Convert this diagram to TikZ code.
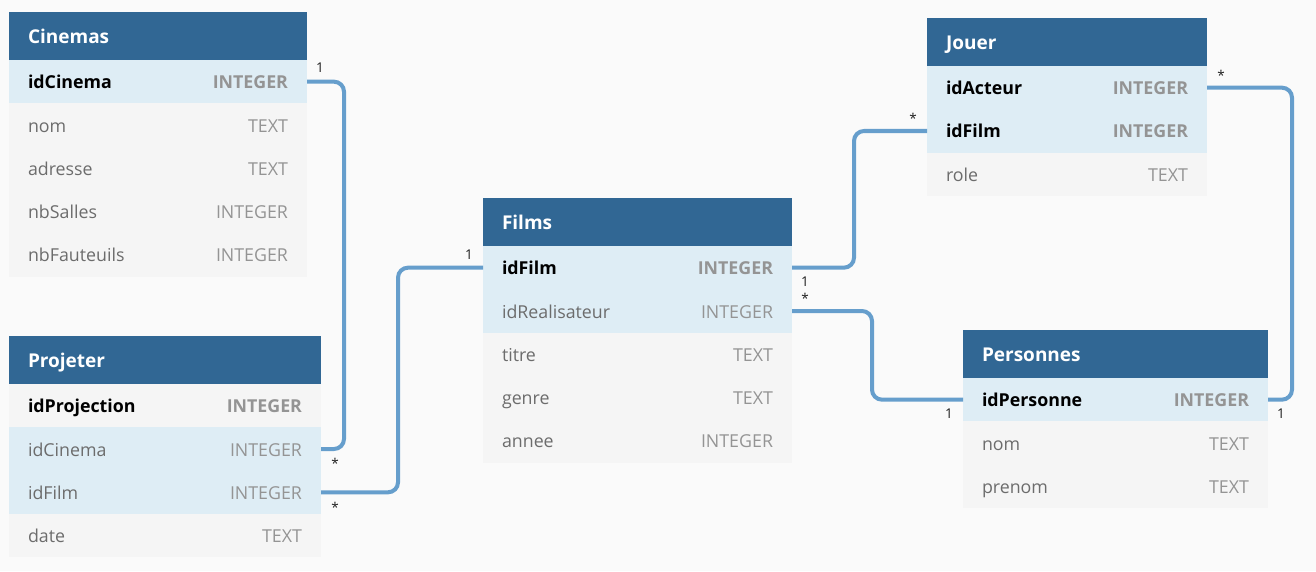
\documentclass[tikz,border=0pt]{standalone}
\usepackage{fontspec}
\setmainfont{Open Sans}
\usetikzlibrary{positioning}

\definecolor{bgcol}{RGB}{250,250,250}
\definecolor{headcol}{RGB}{49,103,148}
\definecolor{keycol}{RGB}{222,237,245}
\definecolor{rowcol}{RGB}{245,245,245}
\definecolor{namecol}{RGB}{108,108,108}
\definecolor{typecol}{RGB}{148,148,148}
\definecolor{linkcol}{RGB}{102,158,204}
\definecolor{cardcol}{RGB}{30,30,30}

\begin{document}
\begin{tikzpicture}[x=1pt, y=-1pt]
        \tikzstyle{head}=[rectangle,fill=headcol,text=white,font=\bfseries\fontsize{19}{23}\selectfont,minimum height=48pt,inner xsep=19pt,inner ysep=0pt,outer sep=0pt,align=left,text height=16pt,text depth=1pt,anchor=north west]
        \tikzstyle{row}=[rectangle,fill=rowcol,text=namecol,font=\fontsize{17.8}{21}\selectfont,minimum height=43.33pt,inner xsep=19pt,inner ysep=0pt,outer sep=0pt,align=left,text height=15pt,text depth=1pt]
        \tikzstyle{linked}=[row,fill=keycol]
        \tikzstyle{pk}=[text=black,font=\bfseries\fontsize{17.8}{21}\selectfont]
        \tikzstyle{link}=[draw=linkcol,line width=4pt,rounded corners=10pt]
        \tikzstyle{card}=[font=\fontsize{13.5}{15}\selectfont,text=cardcol,inner sep=0pt,anchor=base]

        \useasboundingbox[fill=bgcol] (0,0) rectangle (1316,571);

        % Cinemas
        \begin{scope}[text width=260pt]
        \node[head] (cinemas) at (9,12) {Cinemas};
        \node[linked, pk, below=0pt of cinemas] (cinemas-id) {idCinema\hfill\textcolor{typecol}{INTEGER}};
        \node[row, below=0pt of cinemas-id] (cinemas-nom) {nom\hfill\textcolor{typecol}{TEXT}};
        \node[row, below=0pt of cinemas-nom] (cinemas-adr) {adresse\hfill\textcolor{typecol}{TEXT}};
        \node[row, below=0pt of cinemas-adr] (cinemas-salles) {nbSalles\hfill\textcolor{typecol}{INTEGER}};
        \node[row, below=0pt of cinemas-salles] (cinemas-fauteuils) {nbFauteuils\hfill\textcolor{typecol}{INTEGER}};
        \end{scope}

        % Projeter
        \begin{scope}[text width=274pt]
        \node[head] (projeter) at (9,336) {Projeter};
        \node[row, pk, below=0pt of projeter] (projeter-id) {idProjection\hfill\textcolor{typecol}{INTEGER}};
        \node[linked, below=0pt of projeter-id] (projeter-cinema) {idCinema\hfill\textcolor{typecol}{INTEGER}};
        \node[linked, below=0pt of projeter-cinema] (projeter-film) {idFilm\hfill\textcolor{typecol}{INTEGER}};
        \node[row, below=0pt of projeter-film] (projeter-date) {date\hfill\textcolor{typecol}{TEXT}};
        \end{scope}

        % Films
        \begin{scope}[text width=271pt]
        \node[head] (films) at (483,198) {Films};
        \node[linked, pk, below=0pt of films] (films-id) {idFilm\hfill\textcolor{typecol}{INTEGER}};
        \node[linked, below=0pt of films-id] (films-real) {idRealisateur\hfill\textcolor{typecol}{INTEGER}};
        \node[row, below=0pt of films-real] (films-titre) {titre\hfill\textcolor{typecol}{TEXT}};
        \node[row, below=0pt of films-titre] (films-genre) {genre\hfill\textcolor{typecol}{TEXT}};
        \node[row, below=0pt of films-genre] (films-annee) {annee\hfill\textcolor{typecol}{INTEGER}};
        \end{scope}

        % Jouer
        \begin{scope}[text width=242pt]
        \node[head] (jouer) at (927,18) {Jouer};
        \node[linked, pk, below=0pt of jouer] (jouer-acteur) {idActeur\hfill\textcolor{typecol}{INTEGER}};
        \node[linked, pk, below=0pt of jouer-acteur] (jouer-film) {idFilm\hfill\textcolor{typecol}{INTEGER}};
        \node[row, below=0pt of jouer-film] (jouer-role) {role\hfill\textcolor{typecol}{TEXT}};
        \end{scope}

        % Personnes
        \begin{scope}[text width=267pt]
        \node[head] (pers) at (963,330) {Personnes};
        \node[linked, pk, below=0pt of pers] (pers-id) {idPersonne\hfill\textcolor{typecol}{INTEGER}};
        \node[row, below=0pt of pers-id] (pers-nom) {nom\hfill\textcolor{typecol}{TEXT}};
        \node[row, below=0pt of pers-nom] (pers-prenom) {prenom\hfill\textcolor{typecol}{TEXT}};
        \end{scope}

        % relations
        \draw[link] (cinemas-id.east) -- ++(37,0) |- (projeter-cinema.east);
        \draw[link] (projeter-film.east) -- ++(77,0) |- (films-id.west);
        \draw[link] (films-id.east) -- ++(62,0) |- (jouer-film.west);
        \draw[link] (films-real.east) -- ++(80,0) |- (pers-id.west);
        \draw[link] (jouer-acteur.east) -- ++(85,0) |- (pers-id.east);

        % cardinalities
        \node[card] (card-cin-1) at ([shift={(13,-9)}]cinemas-id.east) {1};
        \node[card] (card-cin-n) at ([shift={(14,19)}]projeter-cinema.east) {*};
        \node[card] (card-film-n) at ([shift={(14,20)}]projeter-film.east) {*};
        \node[card] (card-film-1) at ([shift={(-14,-8)}]films-id.west) {1};
        \node[card] (card-jouer-1) at ([shift={(13,19)}]films-id.east) {1};
        \node[card] (card-jouer-n) at ([shift={(-14,-7)}]jouer-film.west) {*};
        \node[card] (card-real-n) at ([shift={(13,-8)}]films-real.east) {*};
        \node[card] (card-real-1) at ([shift={(-14,19)}]pers-id.west) {1};
        \node[card] (card-acteur-n) at ([shift={(14,-7.5)}]jouer-acteur.east) {*};
        \node[card] (card-acteur-1) at ([shift={(13,19)}]pers-id.east) {1};
    \end{tikzpicture}
\end{document}
